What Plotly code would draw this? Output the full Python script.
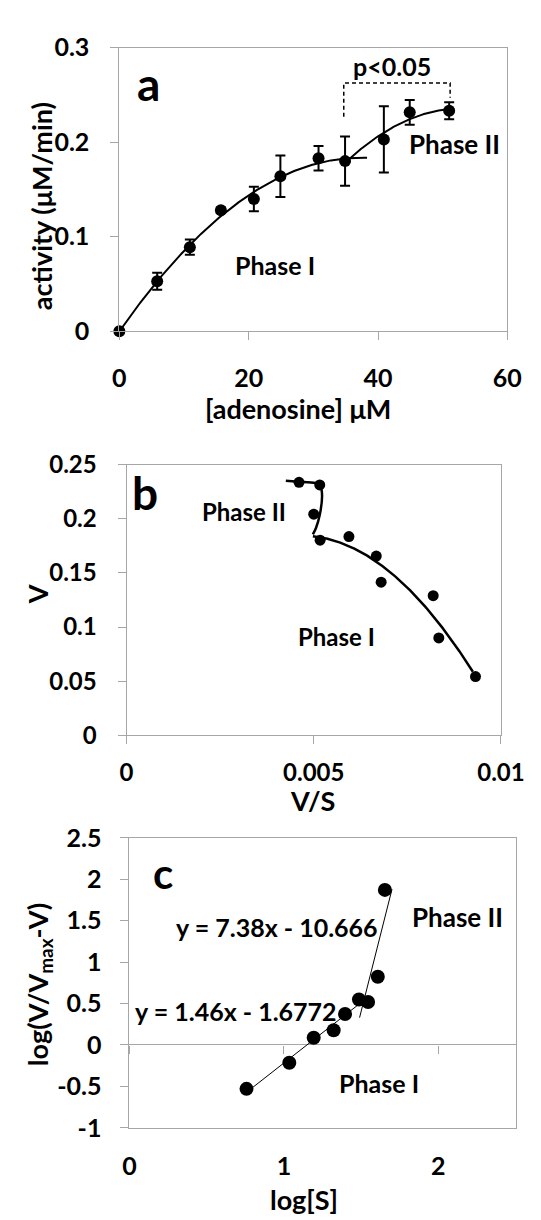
import numpy as np
import plotly.graph_objects as go

W, H = 541, 1220
FONT = "Lato"
GREY = "#A6A6A6"

# ---------------- Panel a data ----------------
adenosine = [0, 5.85, 10.9, 15.7, 20.8, 24.9, 30.8, 34.9, 40.9, 44.9, 51.0]
activity = [0, 0.053, 0.089, 0.128, 0.140, 0.164, 0.183, 0.180, 0.203, 0.2316, 0.2333]
activity_err = [0, 0.009, 0.008, 0.003, 0.013, 0.022, 0.013, 0.026, 0.035, 0.013, 0.009]
a_phase1_n = 8          # first 8 points -> phase I
a_phase2_start = 7      # points from index 7 -> phase II
a_phase1_xmax = 38.3
bracket_x = [34.7, 34.7, 51.15, 51.15]
bracket_y = [0.227, 0.2627, 0.2627, 0.247]

# ---------------- Panel b data ----------------
vs = [0.00932, 0.00834, 0.00819, 0.0068, 0.00667, 0.00594, 0.00517, 0.0050, 0.00516, 0.004607]
v = [0.0543, 0.090, 0.129, 0.1414, 0.1655, 0.1835, 0.1802, 0.2042, 0.2312, 0.2336]
b_phase1_n = 7
b_phase1_xrange = [0.004977, 0.00925]
b_phase2_curve_x = [0.004255, 0.004592, 0.005035, 0.005186, 0.005222, 0.005161, 0.00506, 0.004977]
b_phase2_curve_y = [0.2351, 0.2342, 0.2330, 0.2291, 0.2216, 0.2036, 0.1915, 0.1856]

# ---------------- Panel c data ----------------
log_s = [0.758, 1.035, 1.193, 1.322, 1.396, 1.486, 1.545, 1.608, 1.654]
log_ratio = [-0.529, -0.215, 0.087, 0.177, 0.373, 0.549, 0.518, 0.824, 1.871]
fit1_slope, fit1_icpt, fit1_x = 1.46, -1.6772, [0.758, 1.49]
fit2_slope, fit2_icpt, fit2_x = 7.38, -10.666, [1.49, 1.70]

a_xticks = [0, 20, 40, 60]
a_yticks = [0, 0.1, 0.2, 0.3]
b_xticks = [0, 0.005, 0.01]
b_xticktext = ["0", "0.005", "0.01"]
b_yticks = [0, 0.05, 0.1, 0.15, 0.2, 0.25]
b_yticktext = ["0", "0.05", "0.1", "0.15", "0.2", "0.25"]
c_xticks = [0, 1, 2]
c_yticks = [-1, -0.5, 0, 0.5, 1, 1.5, 2, 2.5]
c_yticktext = ["-1", "-0.5", "0", "0.5", "1", "1.5", "2", "2.5"]

# ---------------- layout geometry (pixels) ----------------
def xdom(l, r):
    return [l / W, r / W]

def ydom(top, bottom):
    return [1 - bottom / H, 1 - top / H]

dom_a = (xdom(110.7, 522.3), ydom(24.3, 315))
dom_b = (xdom(118.3, 515.5), ydom(451.7, 729.3))
dom_c = (xdom(121.4, 531.0), ydom(834.3, 1131.7))

fig = go.Figure()

# ---- Panel a ----
xa = np.array(adenosine); ya = np.array(activity)
p1 = np.polyfit(xa[:a_phase1_n], ya[:a_phase1_n], 2)
xx1 = np.linspace(0, a_phase1_xmax, 200)
fig.add_trace(go.Scatter(x=xx1, y=np.polyval(p1, xx1), mode="lines",
                         line=dict(color="black", width=2), xaxis="x", yaxis="y", hoverinfo="skip"))
p2 = np.polyfit(xa[a_phase2_start:], ya[a_phase2_start:], 2)
xx2 = np.linspace(xa[a_phase2_start], xa[-1], 100)
fig.add_trace(go.Scatter(x=xx2, y=np.polyval(p2, xx2), mode="lines",
                         line=dict(color="black", width=2), xaxis="x", yaxis="y", hoverinfo="skip"))
fig.add_trace(go.Scatter(x=adenosine, y=activity, mode="markers", cliponaxis=False,
                         marker=dict(color="black", size=12),
                         error_y=dict(type="data", array=activity_err, visible=True,
                                      color="black", thickness=2, width=5),
                         xaxis="x", yaxis="y"))
fig.add_trace(go.Scatter(x=bracket_x, y=bracket_y, mode="lines",
                         line=dict(color="black", width=1.5, dash="4px,3px"),
                         xaxis="x", yaxis="y", hoverinfo="skip"))

# ---- Panel b ----
xb = np.array(vs); yb = np.array(v)
pb = np.polyfit(xb[:b_phase1_n], yb[:b_phase1_n], 2)
xxb = np.linspace(b_phase1_xrange[0], b_phase1_xrange[1], 200)
fig.add_trace(go.Scatter(x=xxb, y=np.polyval(pb, xxb), mode="lines",
                         line=dict(color="black", width=2.5), xaxis="x2", yaxis="y2", hoverinfo="skip"))
fig.add_trace(go.Scatter(x=b_phase2_curve_x, y=b_phase2_curve_y, mode="lines",
                         line=dict(color="black", width=2.5, shape="spline", smoothing=0.8),
                         xaxis="x2", yaxis="y2", hoverinfo="skip"))
fig.add_trace(go.Scatter(x=vs, y=v, mode="markers", marker=dict(color="black", size=11),
                         cliponaxis=False, xaxis="x2", yaxis="y2"))

# ---- Panel c ----
f1x = np.array(fit1_x); f2x = np.array(fit2_x)
fig.add_trace(go.Scatter(x=f1x, y=fit1_slope * f1x + fit1_icpt, mode="lines",
                         line=dict(color="black", width=1), xaxis="x3", yaxis="y3", hoverinfo="skip"))
fig.add_trace(go.Scatter(x=f2x, y=fit2_slope * f2x + fit2_icpt, mode="lines",
                         line=dict(color="black", width=1), xaxis="x3", yaxis="y3", hoverinfo="skip"))
fig.add_trace(go.Scatter(x=log_s, y=log_ratio, mode="markers", marker=dict(color="black", size=14),
                         cliponaxis=False, xaxis="x3", yaxis="y3"))
# invisible trace to carry the zero-line tick axis
fig.add_trace(go.Scatter(x=[c_xticks[0]], y=[0], mode="markers", marker=dict(opacity=0),
                         xaxis="x4", yaxis="y3", hoverinfo="skip"))

def tf(size):
    return dict(family=FONT, size=size, color="black", weight="bold")

def axis(domain, rng, **kw):
    d = dict(domain=domain, range=rng, showline=True, linecolor=GREY, linewidth=1, mirror=True,
             ticks="outside", ticklen=8, tickcolor=GREY, tickwidth=1, showgrid=False,
             zeroline=False, tickfont=tf(25), fixedrange=True)
    d.update(kw)
    return d

c_yrange = [-1, 2.5]
zero_pos = dom_c[1][0] + (0 - c_yrange[0]) / (c_yrange[1] - c_yrange[0]) * (dom_c[1][1] - dom_c[1][0])

fig.update_layout(
    width=W, height=H, margin=dict(l=0, r=0, t=0, b=0),
    paper_bgcolor="white", plot_bgcolor="white", showlegend=False,
    font=dict(family=FONT, color="black", size=24, weight="bold"),
    xaxis=axis(dom_a[0], [0, 60], anchor="y", tickvals=a_xticks, ticklabelstandoff=17),
    yaxis=axis(dom_a[1], [0, 0.3], anchor="x", tickvals=a_yticks, ticklabelstandoff=16),
    xaxis2=axis(dom_b[0], [0, 0.01], anchor="y2", tickvals=b_xticks, ticktext=b_xticktext,
                ticklabelstandoff=8, tickfont=tf(24)),
    yaxis2=axis(dom_b[1], [0, 0.25], anchor="x2", tickvals=b_yticks, ticktext=b_yticktext,
                ticklabelstandoff=16, tickfont=tf(24)),
    xaxis3=axis(dom_c[0], [0, 2.5], anchor="y3", tickvals=c_xticks, ticks="",
                ticklabelstandoff=16, tickfont=tf(25)),
    yaxis3=axis(dom_c[1], c_yrange, anchor="x3", tickvals=c_yticks, ticktext=c_yticktext,
                ticklabelstandoff=14, zeroline=True, zerolinecolor=GREY, zerolinewidth=1,
                tickfont=tf(25)),
    xaxis4=dict(domain=dom_c[0], range=[0, 2.5], overlaying="x3", anchor="free", position=zero_pos,
                side="bottom", showline=False, ticks="outside", ticklen=8, tickcolor=GREY,
                tickvals=c_xticks, showticklabels=False, showgrid=False, zeroline=False, fixedrange=True),
)

def ann(text, x, y, xref, yref, size=24, **kw):
    d = dict(text=text, x=x, y=y, xref=xref, yref=yref, showarrow=False,
             font=tf(size), xanchor="center", yanchor="middle")
    d.update(kw)
    fig.add_annotation(**d)

# panel a texts
ann("a", 4.53, 0.262, "x", "y", size=46)
ann("p<0.05", 42.2, 0.281, "x", "y", size=25)
ann("Phase II", 51.8, 0.198, "x", "y", size=26)
ann("Phase I", 24.1, 0.07, "x", "y", size=25)
ann("activity (μM/min)", 27.6 / W, 1 - 186.7 / H, "paper", "paper", size=27, textangle=-90)
ann("[adenosine] μM", 300 / W, 1 - 394 / H, "paper", "paper", size=27)

# panel b texts
ann("b", 0.000495, 0.2246, "x2", "y2", size=46)
ann("Phase II", 0.00314, 0.207, "x2", "y2", size=24)
ann("Phase I", 0.00562, 0.0909, "x2", "y2", size=24)
ann("V", 24 / W, 1 - 585 / H, "paper", "paper", size=27, textangle=-90)
ann("V/S", 315.5 / W, 1 - 796 / H, "paper", "paper", size=27)

# panel c texts
ann("c", 0.2167, 2.08, "x3", "y3", size=42)
ann("Phase II", 2.121, 1.55, "x3", "y3", size=26)
ann("y = 7.38x - 10.666", 0.953, 1.42, "x3", "y3", size=25)
ann("y = 1.46x - 1.6772", 0.69, 0.41, "x3", "y3", size=25)
ann("Phase I", 1.616, -0.46, "x3", "y3", size=25)
ann("log(V/V<sub>max</sub>-V)", 25.9 / W, 1 - 985 / H, "paper", "paper", size=27, textangle=-90)
ann("log[S]", 307 / W, 1 - 1205 / H, "paper", "paper", size=27)

fig.write_html("out.html")
